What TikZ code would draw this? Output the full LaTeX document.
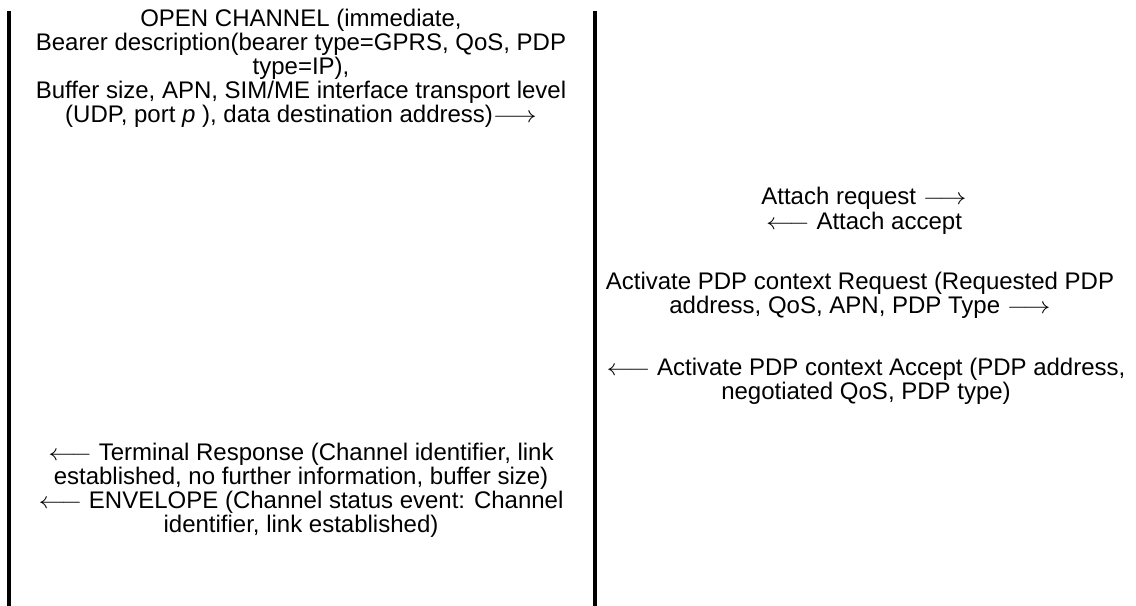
\documentclass[tikz,border=0pt]{standalone}
\usepackage{fontspec}
\setmainfont{Liberation Sans}
\usepackage{amsmath}
\usetikzlibrary{positioning}

\newcommand{\msgto}{\scalebox{1.18}[1]{$\longrightarrow$}}
\newcommand{\msgfrom}{\scalebox{1.18}[1]{$\longleftarrow$}}

\tikzset{
  msg/.style={anchor=base,inner sep=0pt,align=center,
    font=\fontsize{18}{18}\selectfont},
  lifeline/.style={line width=3pt}
}

\begin{document}
\begin{tikzpicture}[x=0.75pt,y=0.75pt,yscale=-1,xscale=1]
        \useasboundingbox (0,0) rectangle (1136,606);

        %Straight Lines [id:sim]
        \coordinate (simtop) at (9,11);
        \coordinate (simbot) at (9,606);
        \draw [lifeline] (simtop) -- (simbot);
        %Straight Lines [id:me]
        \coordinate (metop) at (595,11);
        \coordinate (mebot) at (595,606);
        \draw [lifeline] (metop) -- (mebot);

        % Text Node
        \node [msg] (opench) at (301,123) {OPEN CHANNEL (immediate,\\
          Bearer description(bearer type=GPRS, QoS, PDP\\
          type=IP),\\
          Buffer size, APN, SIM/ME interface transport level\\
          (UDP, port \textit{p} ), data destination address)\msgto};
        % Text Node
        \node [msg] (attach) at (864,229) {Attach request \msgto\\
          \msgfrom{} Attach accept};
        % Text Node
        \node [msg] (pdpreq) at (860,314) {Activate PDP context Request (Requested PDP\\
          address, QoS, APN, PDP Type \msgto};
        % Text Node
        \node [msg] (pdpacc) at (866,399) {\msgfrom{} Activate PDP context Accept (PDP address,\\
          negotiated QoS, PDP type)};
        % Text Node
        \node [msg] (termresp) at (301,532) {\msgfrom{} Terminal Response (Channel identifier, link\\
          established, no further information, buffer size)\\
          \msgfrom{} ENVELOPE (Channel status event: Channel\\
          identifier, link established)};

\end{tikzpicture}
\end{document}
